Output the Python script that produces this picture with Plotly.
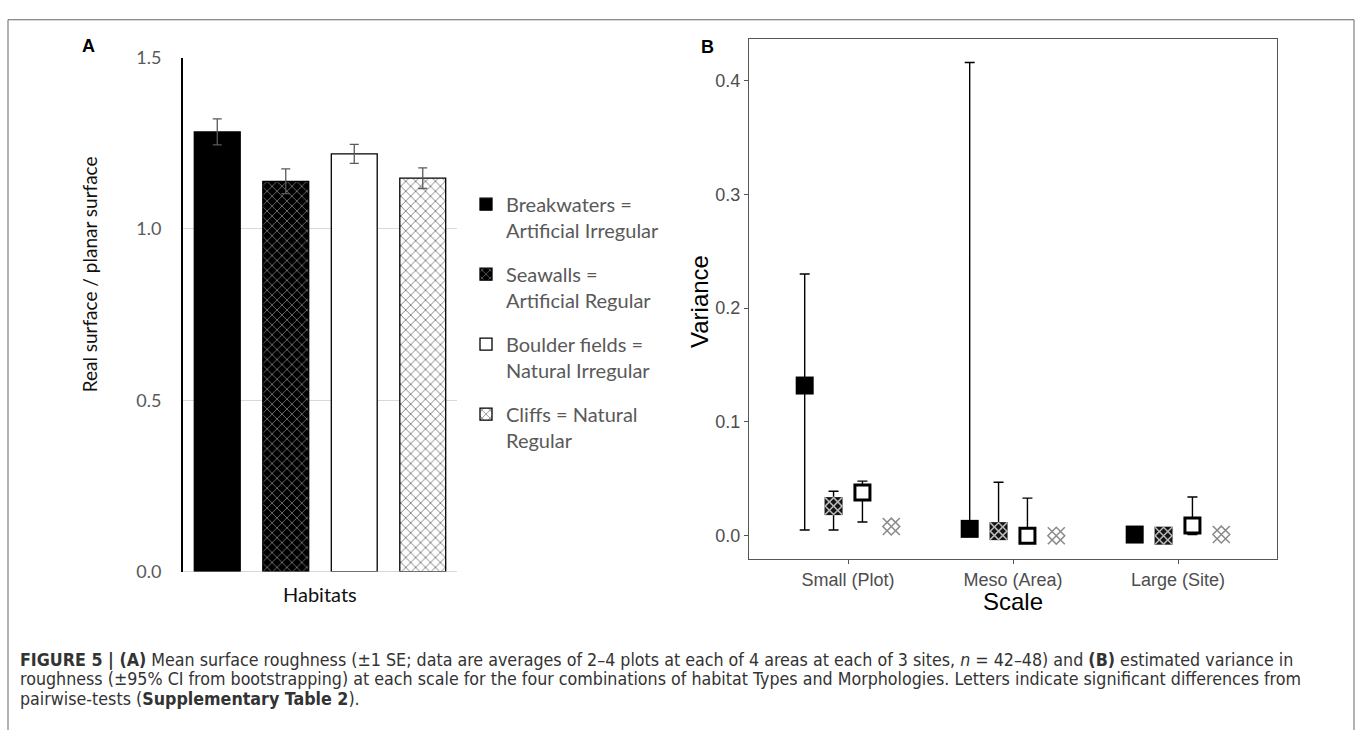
import plotly.graph_objects as go

W, H = 1358, 730

# ---------------- data ----------------
habitats = ["Breakwaters", "Seawalls", "Boulder fields", "Cliffs"]
legend_labels = ["Breakwaters =<br>Artificial Irregular",
                 "Seawalls =<br>Artificial Regular",
                 "Boulder fields =<br>Natural Irregular",
                 "Cliffs = Natural<br>Regular"]
roughness_mean = [1.283, 1.139, 1.219, 1.148]
roughness_se = [0.038, 0.036, 0.028, 0.030]
yticks_a = [0.0, 0.5, 1.0, 1.5]

scales = ["Small (Plot)", "Meso (Area)", "Large (Site)"]
var_breakwaters = [0.132, 0.006, 0.001]
lo_breakwaters = [0.005, 0.000, 0.000]
hi_breakwaters = [0.230, 0.416, 0.007]
var_seawalls = [0.026, 0.004, 0.000]
lo_seawalls = [0.005, 0.000, -0.001]
hi_seawalls = [0.039, 0.047, 0.003]
var_boulder = [0.038, 0.000, 0.009]
lo_boulder = [0.012, -0.001, 0.001]
hi_boulder = [0.048, 0.033, 0.034]
var_cliffs = [0.008, 0.000, 0.001]
lo_cliffs = [0.005, -0.001, 0.000]
hi_cliffs = [0.011, 0.002, 0.003]
yticks_b = [0.0, 0.1, 0.2, 0.3, 0.4]
dodge_width = 0.7


def px_x(p):
    return p / W


def px_y(p):
    return 1 - p / H


fig = go.Figure()

# ---------------- panel A: bars ----------------
bar_styles = [
    dict(color="black", pattern=dict(shape="")),
    dict(color="black", pattern=dict(shape="x", bgcolor="black", fgcolor="#d8d8d8",
                                     size=7, solidity=0.25, fillmode="overlay")),
    dict(color="white", pattern=dict(shape="")),
    dict(color="white", pattern=dict(shape="x", bgcolor="white", fgcolor="black",
                                     size=7, solidity=0.25, fillmode="overlay")),
]
for i, h in enumerate(habitats):
    st = bar_styles[i]
    fig.add_trace(go.Bar(
        x=[h], y=[roughness_mean[i]], name=legend_labels[i],
        legendgroup=h, width=0.67,
        marker=dict(color=st["color"], pattern=st["pattern"],
                    line=dict(color="black", width=1.3)),
        error_y=dict(type="data", array=[roughness_se[i]], color="#595959",
                     thickness=1.3, width=4.5),
        xaxis="x", yaxis="y", showlegend=True,
    ))

# ---------------- panel B: variance points ----------------
series = [
    (var_breakwaters, lo_breakwaters, hi_breakwaters),
    (var_seawalls, lo_seawalls, hi_seawalls),
    (var_boulder, lo_boulder, hi_boulder),
    (var_cliffs, lo_cliffs, hi_cliffs),
]
n = len(habitats)
step = dodge_width / n
for i, (v, lo, hi) in enumerate(series):
    xs = [k + (i - (n - 1) / 2) * step for k in range(len(scales))]
    plus = [b - a for a, b in zip(v, hi)]
    minus = [a - b for a, b in zip(v, lo)]
    if i == 0:
        mk = dict(symbol="square", size=18, color="black", line=dict(width=0))
    elif i == 1:
        mk = dict(symbol="square", size=18, color="#141414", line=dict(width=0))
    elif i == 2:
        mk = dict(symbol="square", size=15, color="white", line=dict(color="black", width=3))
    else:
        mk = dict(symbol="square", size=18, color="white", line=dict(width=0))
    fig.add_trace(go.Scatter(
        x=xs, y=v, mode="markers", marker=mk, showlegend=False,
        error_y=dict(type="data", symmetric=False, array=plus, arrayminus=minus,
                     color="black", thickness=1.4, width=5),
        xaxis="x2", yaxis="y2",
    ))
    if i in (1, 3):
        col = "#b8b8b8" if i == 1 else "#8a8a8a"
        fig.add_trace(go.Scatter(
            x=xs, y=v, mode="markers", showlegend=False, hoverinfo="skip",
            marker=dict(symbol="x-thin-open", size=17, color=col,
                        line=dict(color=col, width=1.5)),
            xaxis="x2", yaxis="y2"))
        fig.add_trace(go.Scatter(
            x=xs, y=v, mode="markers", showlegend=False, hoverinfo="skip",
            marker=dict(symbol="diamond-open", size=13, color=col,
                        line=dict(color=col, width=1.5)),
            xaxis="x2", yaxis="y2"))

calibri = "Lato, Carlito, 'Open Sans', sans-serif"
arial = "'Liberation Sans', Arial, sans-serif"
narrow = "'Liberation Sans Narrow', 'Arial Narrow', 'DejaVu Sans Condensed', 'Liberation Sans', sans-serif"

fig.update_layout(
    width=W, height=H, margin=dict(l=0, r=0, t=0, b=0, pad=0),
    paper_bgcolor="white", plot_bgcolor="white",
    barmode="overlay",
    xaxis=dict(domain=[px_x(183), px_x(457)], range=[-0.5, 3.5], anchor="y",
               categoryorder="array", categoryarray=habitats,
               showticklabels=False, ticks="", showgrid=False, zeroline=False,
               showline=False),
    yaxis=dict(domain=[px_y(577), px_y(47)], range=[0, 1.5], anchor="x",
               tickvals=yticks_a, tickformat=".1f", ticks="",
               tickfont=dict(family=calibri, size=18, color="#595959"),
               showgrid=True, gridcolor="#d9d9d9", gridwidth=1,
               zeroline=True, zerolinecolor="#d9d9d9", zerolinewidth=1,
               showline=True, linecolor="black", linewidth=2,
               ticklabelstandoff=16),
    xaxis2=dict(domain=[px_x(749), px_x(1277)], range=[-0.6, 2.6], anchor="y2",
                tickvals=list(range(len(scales))), ticktext=scales,
                ticks="outside", ticklen=4, tickcolor="#555", tickwidth=1,
                tickfont=dict(family=arial, size=18, color="#4d4d4d"),
                showgrid=False, zeroline=False,
                showline=True, linecolor="#555", linewidth=1, mirror=True),
    yaxis2=dict(domain=[px_y(564), px_y(28)], range=[-0.0205, 0.4365], anchor="x2",
                tickvals=yticks_b, tickformat=".1f",
                ticks="outside", ticklen=4, tickcolor="#555", tickwidth=1,
                tickfont=dict(family=arial, size=18, color="#4d4d4d"),
                showgrid=False, zeroline=False,
                showline=True, linecolor="#555", linewidth=1, mirror=True),
    legend=dict(x=px_x(466), y=px_y(178), xanchor="left", yanchor="top",
                font=dict(family=calibri, size=20, color="#595959"),
                bgcolor="rgba(0,0,0,0)", valign="top",
                traceorder="grouped", tracegroupgap=15, itemclick=False),
)

ann = []
ann.append(dict(text="<b>A</b>", x=px_x(88), y=px_y(35), font=dict(family=arial, size=18, color="black")))
ann.append(dict(text="<b>B</b>", x=px_x(707), y=px_y(36), font=dict(family=arial, size=18, color="black")))
ann.append(dict(text="Real surface / planar surface", x=px_x(89.5), y=px_y(271), textangle=-90,
                font=dict(family=calibri, size=19, color="#111")))
ann.append(dict(text="Habitats", x=px_x(320), y=px_y(600),
                font=dict(family=calibri, size=20, color="#111")))
ann.append(dict(text="Variance", x=px_x(699), y=px_y(298), textangle=-90,
                font=dict(family=arial, size=24, color="black")))
ann.append(dict(text="Scale", x=px_x(1013), y=px_y(608),
                font=dict(family=arial, size=24, color="black")))

caption = [
    "<b>FIGURE 5 | (A)</b> Mean surface roughness (±1 SE; data are averages of 2–4 plots at each of 4 areas at each of 3 sites, <i>n</i> = 42–48) and <b>(B)</b> estimated variance in",
    "roughness (±95% CI from bootstrapping) at each scale for the four combinations of habitat Types and Morphologies. Letters indicate significant differences from",
    "pairwise-tests (<b>Supplementary Table 2</b>).",
]
for k, line in enumerate(caption):
    ann.append(dict(text=line, x=px_x(18), y=px_y(668 + 20 * k), xanchor="left",
                    font=dict(family=narrow, size=17.7, color="#333")))

for a in ann:
    a.setdefault("xanchor", "center")
    a.update(xref="paper", yref="paper", yanchor="middle", showarrow=False)
fig.update_layout(annotations=ann)

# outer frame
fig.add_shape(type="path", xref="paper", yref="paper",
              path=f"M {px_x(8)},-0.05 L {px_x(8)},{px_y(8)} L {px_x(1354)},{px_y(8)} L {px_x(1354)},-0.05",
              line=dict(color="#666", width=1))

fig.write_html("out.html")
